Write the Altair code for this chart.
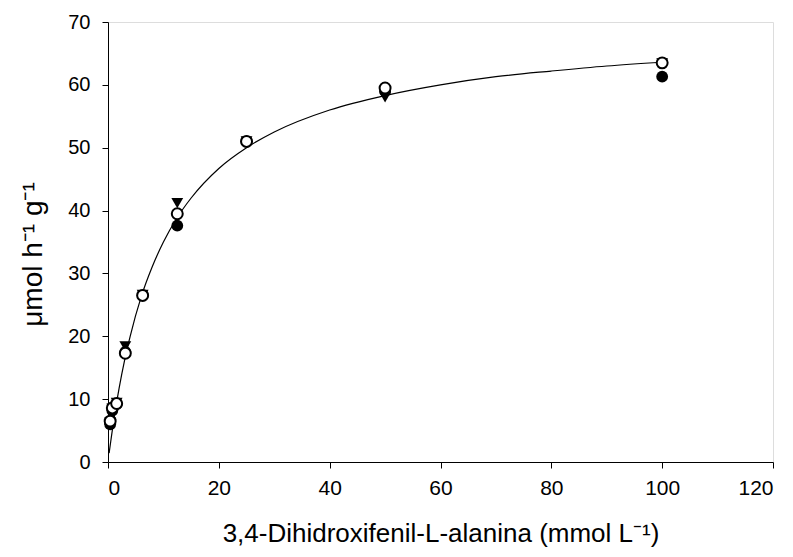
import altair as alt
import pandas as pd

# concentrations (mmol L-1)
conc = [0.39, 0.78, 1.56, 3.125, 6.25, 12.5, 25, 50, 100]
filled_circle = [6.0, 8.2, 9.2, 17.5, 26.5, 37.6, 51.0, 59.0, 61.3]
open_circle = [6.5, 8.6, 9.3, 17.3, 26.5, 39.5, 51.0, 59.5, 63.5]
triangle_down = [6.3, 8.5, 9.4, 18.4, 26.6, 41.2, 51.0, 58.0, 63.4]

# fitted curve
curve_x = [0.2, 0.5, 1, 2, 3, 4, 6, 8, 10, 12.5, 15, 20, 25, 30, 40, 50, 60, 70, 80, 90, 100]
curve_y = [1.4, 3.3, 6.4, 11.7, 16.2, 20.0, 26.3, 31.1, 35.0, 38.9, 42.0, 46.7, 50.0, 52.5,
           56.0, 58.3, 60.0, 61.3, 62.2, 63.0, 63.6]

x_ticks = [0, 20, 40, 60, 80, 100, 120]
y_ticks = [0, 10, 20, 30, 40, 50, 60, 70]

FONT = "Liberation Sans"

xs = alt.Scale(domain=[0, 120], nice=False, zero=False)
ys = alt.Scale(domain=[0, 70], nice=False, zero=False)

x_enc = alt.X("x:Q", scale=xs, axis=alt.Axis(
    values=x_ticks, title="3,4-Dihidroxifenil-L-alanina (mmol L\u207b\u00b9)",
    grid=False, domainColor="black", tickColor="black", tickSize=6, tickWidth=1,
    labelFontSize=21, labelColor="black", labelPadding=9, labelFont=FONT,
    titleFont=FONT, titleFontSize=26, titleFontWeight="normal", titleColor="black",
    titlePadding=22))
y_enc = alt.Y("y:Q", scale=ys, axis=alt.Axis(
    values=y_ticks, title="\u03bcmol h\u207b\u00b9 g\u207b\u00b9",
    grid=False, domainColor="black", tickColor="black", tickSize=6, tickWidth=1,
    labelFontSize=20, labelColor="black", labelPadding=12, labelFont=FONT,
    titleFont=FONT, titleFontSize=28, titleFontWeight="normal", titleColor="black",
    titlePadding=20, titleY=232))

curve_df = pd.DataFrame({"x": curve_x, "y": curve_y})
df_f = pd.DataFrame({"x": conc, "y": filled_circle})
df_o = pd.DataFrame({"x": conc, "y": open_circle})
df_t = pd.DataFrame({"x": conc, "y": triangle_down})

curve = alt.Chart(curve_df).mark_line(color="black", strokeWidth=1.2, interpolate="monotone").encode(
    x=x_enc, y=y_enc)
pts_f = alt.Chart(df_f).mark_point(shape="circle", filled=True, color="black", size=140, opacity=1).encode(
    x="x:Q", y="y:Q")
pts_t = alt.Chart(df_t).mark_point(shape="triangle-down", filled=True, color="black", size=140, opacity=1).encode(
    x="x:Q", y="y:Q")
pts_o = alt.Chart(df_o).mark_point(shape="circle", filled=True, fill="white", stroke="black",
                                   strokeWidth=2, size=120, opacity=1).encode(x="x:Q", y="y:Q")

chart = alt.layer(curve, pts_f, pts_t, pts_o).properties(
    width=665, height=440,
    autosize=alt.AutoSizeParams(type="none"),
    padding={"left": 100, "top": 14, "right": 12, "bottom": 87},
).configure_view(stroke="black", strokeWidth=1).configure(background="white")

chart.save("out.html", embed_options={"renderer": "svg", "actions": False})
